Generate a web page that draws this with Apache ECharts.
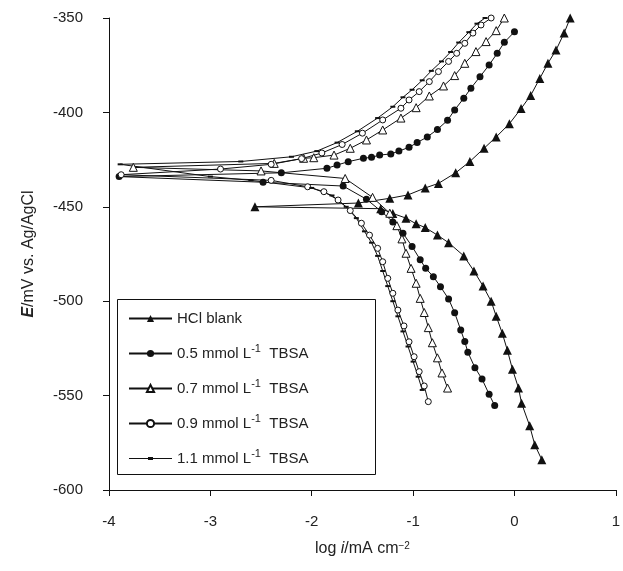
<!DOCTYPE html>
<html>
<head>
<meta charset="utf-8">
<title>Tafel plot</title>
<script src="https://cdn.jsdelivr.net/npm/echarts/dist/echarts.min.js"></script>
<style>
  html, body { margin: 0; padding: 0; background: #fff; }
  #main { width: 623px; height: 571px; }
</style>
</head>
<body>
<div id="main"></div>
<script>
// log i (mA cm-2) and E (mV vs Ag/AgCl), in the order they are connected
var hclLogI = [0.27, 0.20, 0.15, 0.07, 0.04, -0.02, -0.07, -0.12, -0.18, -0.23, -0.31, -0.40, -0.50, -0.65, -0.76, -0.88, -0.97, -1.07, -1.20, -1.32, -2.56, -1.54, -1.23, -1.05, -0.88, -0.75, -0.58, -0.44, -0.30, -0.18, -0.05, 0.065, 0.16, 0.25, 0.33, 0.41, 0.49, 0.55];
var hclE    = [-584, -576, -566, -554, -546, -536, -526, -517, -508, -500, -492, -484, -476, -469, -465, -461, -459, -456, -453.5, -451, -450, -448, -445.5, -443.7, -440, -437.6, -432, -426, -419, -413, -406, -398, -391, -382, -374, -367, -358, -350];

var c05LogI = [-0.195, -0.25, -0.32, -0.39, -0.46, -0.49, -0.53, -0.59, -0.65, -0.73, -0.80, -0.876, -0.93, -1.01, -1.10, -1.20, -1.31, -1.46, -1.69, -2.48, -3.90, -2.30, -1.85, -1.75, -1.64, -1.49, -1.41, -1.33, -1.22, -1.14, -1.04, -0.96, -0.86, -0.76, -0.66, -0.59, -0.50, -0.43, -0.34, -0.25, -0.17, -0.10, 0.0];
var c05E    = [-555.3, -549.3, -541.2, -535.2, -527, -521.4, -515.3, -506.1, -498.8, -492.3, -487, -482.6, -478, -471, -464, -458, -452.6, -446, -439, -437, -434, -432, -429.6, -427.9, -426.1, -424.3, -423.8, -422.6, -422, -420.5, -418.5, -416, -413, -409, -404.2, -398.7, -392.5, -387.2, -381.1, -374.9, -368.7, -362.9, -357.3];

var c07LogI = [-0.66, -0.715, -0.76, -0.81, -0.85, -0.89, -0.93, -0.97, -1.02, -1.07, -1.11, -1.16, -1.23, -1.40, -1.67, -2.50, -3.76, -2.37, -2.08, -1.98, -1.78, -1.62, -1.46, -1.30, -1.12, -0.97, -0.84, -0.70, -0.59, -0.49, -0.38, -0.28, -0.18, -0.10];
var c07E    = [-546, -538, -530, -522, -514, -506, -498.5, -490.5, -482.6, -474.6, -467, -460, -453.4, -445, -435, -431, -429.1, -427, -424.3, -424, -422.6, -419, -414.6, -409.3, -403, -397.5, -391.3, -386, -380.5, -374, -367.8, -362.5, -356.7, -350];

var c09LogI = [-0.85, -0.89, -0.94, -0.99, -1.04, -1.09, -1.15, -1.20, -1.25, -1.30, -1.35, -1.43, -1.51, -1.62, -1.74, -1.88, -2.04, -2.40, -3.88, -2.90, -2.40, -2.10, -1.90, -1.70, -1.50, -1.30, -1.12, -1.04, -0.94, -0.84, -0.75, -0.65, -0.57, -0.49, -0.41, -0.33, -0.23];
var c09E    = [-553.2, -544.9, -537.3, -529.4, -521.5, -513.1, -504.7, -495.8, -487.9, -479.1, -472, -465, -458.7, -452, -446.4, -442, -439.4, -436, -433, -430, -427.5, -424.5, -421.5, -417, -411, -404, -397.8, -393.4, -389, -383.7, -378.4, -373, -368.7, -363.4, -358, -353.7, -350];

var c11LogI = [-0.91, -0.95, -1.00, -1.05, -1.10, -1.15, -1.20, -1.25, -1.30, -1.35, -1.41, -1.48, -1.56, -1.66, -1.80, -2.00, -2.60, -3.00, -3.89, -2.70, -2.20, -1.95, -1.75, -1.55, -1.35, -1.20, -1.10, -1.01, -0.91, -0.82, -0.72, -0.63, -0.55, -0.45, -0.37, -0.29];
var c11E    = [-547, -540, -532, -524, -516, -508, -500, -492, -484, -476, -469, -463, -456, -450, -444, -440, -436, -434, -427.5, -426, -423.5, -420.5, -416, -410, -403, -397, -392, -388, -383, -378, -373, -368, -363, -357.5, -353, -350];

var seriesNames = ['HCl blank', '0.5 mmol', '0.7 mmol', '0.9 mmol', '1.1 mmol'];
var xTicks = [-4, -3, -2, -1, 0, 1];
var yTicks = [-600, -550, -500, -450, -400, -350];

function zip(a, b) {
  var out = [];
  for (var i = 0; i < a.length; i++) out.push([a[i], b[i]]);
  return out;
}

var ink = '#111';
var font = 'Liberation Sans, Arial, Helvetica, sans-serif';

function mkLine(name, data, symbol, size, filled) {
  return {
    name: name,
    type: 'line',
    data: data,
    symbol: symbol,
    symbolSize: size,
    showAllSymbol: true,
    clip: false,
    lineStyle: { color: ink, width: 1 },
    itemStyle: filled ? { color: ink, borderColor: ink, borderWidth: 0 }
                      : { color: '#fff', borderColor: ink, borderWidth: 1 },
    emphasis: { disabled: true },
    z: 3
  };
}

// legend entries: the last one gets a line with a small dash in the middle
var legendData = seriesNames.map(function (n, i) {
  if (i === 4) return { name: n, icon: 'path://M0,4 H43 V5 H0 Z M19,3 H24 V6 H19 Z' };
  return { name: n };
});

var myChart = echarts.init(document.getElementById('main'));
var option = {
  animation: false,
  backgroundColor: '#fff',
  grid: { left: 109, right: 2, top: 18, bottom: 81 },
  xAxis: {
    type: 'value',
    min: xTicks[0], max: xTicks[xTicks.length - 1], interval: 1,
    name: 'log {i|i}/mA cm{s|\u22122}',
    nameLocation: 'middle',
    nameGap: 51,
    nameTextStyle: {
      color: '#222', fontSize: 16, fontFamily: font,
      rich: {
        i: { fontStyle: 'italic', fontSize: 16, fontFamily: font, color: '#222' },
        s: { fontSize: 10, verticalAlign: 'top', fontFamily: font, color: '#222', padding: [0, 0, 6, 0] }
      }
    },
    axisLine: { onZero: false, lineStyle: { color: ink, width: 1 } },
    axisTick: { show: true, inside: false, length: 6, lineStyle: { color: ink } },
    axisLabel: { color: '#222', fontSize: 15, fontFamily: font, margin: 24 },
    splitLine: { show: false }
  },
  yAxis: {
    type: 'value',
    min: yTicks[0], max: yTicks[yTicks.length - 1], interval: 50,
    name: '{e|E}/mV vs. Ag/AgCl',
    nameLocation: 'middle',
    nameGap: 72,
    nameTextStyle: {
      color: '#222', fontSize: 16, fontFamily: font,
      rich: {
        e: { fontStyle: 'italic', fontWeight: 'bold', fontSize: 16, fontFamily: font, color: '#222' }
      }
    },
    axisLine: { show: true, onZero: false, lineStyle: { color: ink, width: 1 } },
    axisTick: { show: true, inside: false, length: 6, lineStyle: { color: ink } },
    axisLabel: { color: '#222', fontSize: 15, fontFamily: font, margin: 26 },
    splitLine: { show: false }
  },
  graphic: [{
    type: 'rect',
    left: 117, top: 299,
    shape: { width: 258, height: 175 },
    style: { fill: '#fff', stroke: ink, lineWidth: 1 },
    z: 1
  }],
  legend: {
    orient: 'vertical',
    left: 123, top: 303,
    itemWidth: 43, itemHeight: 9,
    itemGap: 14,
    data: legendData,
    formatter: function (name) {
      if (name === 'HCl blank') return 'HCl blank';
      return name + ' L{s|-1}  TBSA';
    },
    textStyle: {
      color: '#222', fontSize: 15, fontFamily: font, lineHeight: 21,
      rich: {
        s: { fontSize: 11, fontFamily: font, color: '#222', verticalAlign: 'top', lineHeight: 21, padding: [0, 0, 7, 0] }
      }
    },
    selectedMode: false,
    z: 4
  },
  series: [
    mkLine(seriesNames[0], zip(hclLogI, hclE), 'triangle', 9, true),
    mkLine(seriesNames[1], zip(c05LogI, c05E), 'circle', 7, true),
    mkLine(seriesNames[2], zip(c07LogI, c07E), 'triangle', 8, false),
    mkLine(seriesNames[3], zip(c09LogI, c09E), 'circle', 6, false),
    mkLine(seriesNames[4], zip(c11LogI, c11E), 'rect', [5, 2], true)
  ]
};
myChart.setOption(option);
</script>
</body>
</html>
